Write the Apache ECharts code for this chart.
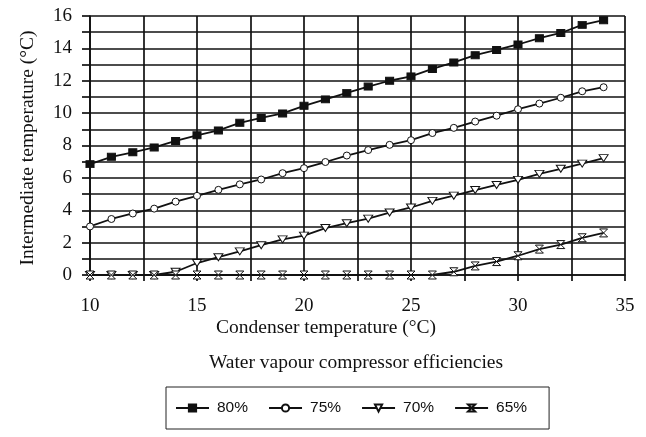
<!DOCTYPE html>
<html>
<head>
<meta charset="utf-8">
<script src="https://cdn.jsdelivr.net/npm/echarts@6/dist/echarts.min.js"></script>
<style>
  html, body, #main { width: 646px; height: 437px; margin: 0; background: #fff; }
</style>
</head>
<body>
<div id="main"></div>
<script>
  // condenser temperature (°C)
  var condenser = [10, 11, 12, 13, 14, 15, 16, 17, 18, 19, 20, 21, 22, 23, 24, 25, 26, 27, 28, 29, 30, 31, 32, 33, 34];
  // intermediate temperature (°C) per compressor efficiency
  var eff80 = [6.85, 7.3, 7.58, 7.88, 8.28, 8.63, 8.93, 9.4, 9.7, 9.98, 10.45, 10.85, 11.25, 11.64, 12.0, 12.27, 12.73, 13.13, 13.58, 13.9, 14.24, 14.63, 14.95, 15.45, 15.74];
  var eff75 = [3.0, 3.46, 3.8, 4.1, 4.53, 4.89, 5.26, 5.6, 5.9, 6.29, 6.6, 6.98, 7.38, 7.72, 8.04, 8.33, 8.77, 9.09, 9.48, 9.84, 10.24, 10.59, 10.95, 11.35, 11.6];
  var eff70 = [0, 0, 0, 0, 0.2, 0.74, 1.1, 1.46, 1.84, 2.2, 2.43, 2.9, 3.2, 3.48, 3.86, 4.17, 4.58, 4.9, 5.25, 5.56, 5.88, 6.25, 6.56, 6.88, 7.22];
  var eff65 = [0, 0, 0, 0, 0, 0, 0, 0, 0, 0, 0, 0, 0, 0, 0, 0, 0, 0.2, 0.56, 0.83, 1.19, 1.6, 1.88, 2.3, 2.6];
  var seriesNames = ['80%', '75%', '70%', '65%'];

  var pair = function (ys) {
    return condenser.map(function (x, i) { return [x, ys[i]]; });
  };

  var serif = '"Liberation Serif", "Times New Roman", serif';
  var sans = '"Liberation Sans", Arial, sans-serif';

  var lineSeries = function (name, ys, symbol, size, fill) {
    return {
      name: name,
      type: 'line',
      data: pair(ys),
      symbol: symbol,
      symbolSize: size,
      showAllSymbol: true,
      itemStyle: { color: fill, borderColor: '#111', borderWidth: 1 },
      lineStyle: { color: '#111', width: 1.8 },
      animation: false
    };
  };

  var chart = echarts.init(document.getElementById('main'));
  chart.setOption({
    backgroundColor: '#fff',
    animation: false,
    grid: { left: 90, right: 21, top: 16, bottom: 162 },
    xAxis: {
      type: 'value',
      min: 10, max: 35, interval: 2.5,
      axisLine: { lineStyle: { color: '#111', width: 1.7 } },
      axisTick: { length: 6, lineStyle: { color: '#111', width: 1.7 } },
      axisLabel: {
        margin: 22, color: '#111', fontFamily: serif, fontSize: 19,
        formatter: function (v) { return v % 5 === 0 ? v : ''; }
      },
      splitLine: { show: true, lineStyle: { color: '#111', width: 1.7 } }
    },
    yAxis: {
      type: 'value',
      min: 0, max: 16, interval: 1,
      axisLine: { show: true, lineStyle: { color: '#111', width: 1.7 } },
      axisTick: { show: true, length: 8, lineStyle: { color: '#111', width: 1.7 } },
      axisLabel: {
        margin: 18, color: '#111', fontFamily: serif, fontSize: 19,
        formatter: function (v) { return v % 2 === 0 ? v : ''; }
      },
      splitLine: { show: true, lineStyle: { color: '#111', width: 1.7 } }
    },
    legend: {
      data: seriesNames,
      left: 166, top: 387,
      padding: [13, 22, 13, 9],
      itemWidth: 33, itemHeight: 9, itemGap: 20,
      borderColor: '#222', borderWidth: 1,
      textStyle: { fontFamily: sans, fontSize: 15.5, color: '#111', padding: [0, 0, 0, 3] }
    },
    graphic: [
      {
        type: 'text', x: 28, y: 148, rotation: Math.PI / 2,
        style: { text: 'Intermediate temperature (°C)', font: '19.5px ' + serif, fill: '#111', align: 'center', verticalAlign: 'middle' }
      },
      {
        type: 'text', x: 326, y: 328,
        style: { text: 'Condenser temperature (°C)', font: '19.5px ' + serif, fill: '#111', align: 'center', verticalAlign: 'middle' }
      },
      {
        type: 'text', x: 356, y: 363,
        style: { text: 'Water vapour compressor efficiencies', font: '19.5px ' + serif, fill: '#111', align: 'center', verticalAlign: 'middle' }
      }
    ],
    series: [
      lineSeries('80%', eff80, 'rect', [8, 7], '#111'),
      lineSeries('75%', eff75, 'circle', 7, '#fff'),
      lineSeries('70%', eff70, 'path://M0,0L10,0L5,8Z', [9, 7], '#fff'),
      lineSeries('65%', eff65, 'path://M0,0L10,0L0,10L10,10Z', [8, 8], '#fff')
    ]
  });
</script>
</body>
</html>
